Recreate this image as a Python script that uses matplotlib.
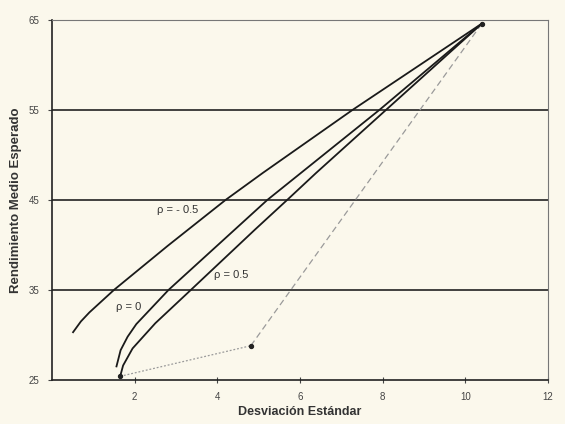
import matplotlib.pyplot as plt

plt.rcParams['font.family'] = ['Liberation Sans', 'DejaVu Sans']

# curvas (desviacion estandar, rendimiento medio)
x_neg = [0.51, 0.70, 0.905, 1.50, 2.80, 4.20, 5.10, 7.27, 10.40]
y_neg = [30.3, 31.5, 32.5, 35.0, 39.9, 45.0, 48.0, 55.0, 64.6]

x_cero = [1.56, 1.66, 1.83, 2.04, 2.82, 5.21, 7.92, 10.40]
y_cero = [26.5, 28.3, 29.8, 31.2, 35.0, 45.0, 55.0, 64.6]

x_pos = [1.65, 1.72, 1.95, 2.50, 3.36, 4.91, 5.69, 6.39, 8.08, 10.40]
y_pos = [25.4, 26.6, 28.5, 31.3, 35.0, 41.7, 45.0, 48.0, 55.0, 64.6]

# activos (puntos) y lineas grises
x_pts = [1.65, 4.81, 10.40]
y_pts = [25.4, 28.8, 64.6]

x_ticks = [2, 4, 6, 8, 10, 12]
y_ticks = [25, 35, 45, 55, 65]
y_grid = [35, 45, 55]

fondo = '#fbf8ec'
fig = plt.figure(figsize=(5.65, 4.24), dpi=100, facecolor=fondo)
ax = fig.add_axes([0.092, 0.104, 0.878, 0.849], facecolor=fondo)

for g in y_grid:
    ax.axhline(g, color='#222222', lw=1.2, zorder=1)

ax.plot(x_neg, y_neg, color='#1a1a1a', lw=1.3, zorder=3)
ax.plot(x_cero, y_cero, color='#1a1a1a', lw=1.3, zorder=3)
ax.plot(x_pos, y_pos, color='#1a1a1a', lw=1.3, zorder=3)

ax.plot(x_pts[:2], y_pts[:2], color='#9a9a9a', lw=0.9, ls=(0, (1.5, 1.5)), zorder=2)
ax.plot(x_pts[1:], y_pts[1:], color='#9a9a9a', lw=0.9, ls=(0, (5, 3)), zorder=2)
ax.scatter(x_pts, y_pts, s=8, color='#222222', zorder=4)

ax.text(2.53, 43.9, 'ρ = - 0.5', fontsize=8, color='#333333', va='center')
ax.text(3.93, 36.7, 'ρ = 0.5', fontsize=8, color='#333333', va='center')
ax.text(1.56, 33.1, 'ρ = 0', fontsize=8, color='#333333', va='center')

ax.set_xlim(0, 12)
ax.set_ylim(25, 65)
ax.set_xticks(x_ticks)
ax.set_yticks(y_ticks)
ax.tick_params(labelsize=7, colors='#444444', length=3, width=0.8)
ax.tick_params(axis='x', direction='inout', length=5, pad=6)
ax.tick_params(axis='y', pad=6)

for s in ['top', 'right']:
    ax.spines[s].set_linestyle((0, (1, 1)))
    ax.spines[s].set_color('#777777')
    ax.spines[s].set_linewidth(0.8)
for s in ['left', 'bottom']:
    ax.spines[s].set_color('#222222')
    ax.spines[s].set_linewidth(1.2)

ax.set_xlabel('Desviación Estándar', fontsize=9, fontweight='bold', color='#333333', labelpad=3)
ax.set_ylabel('Rendimiento Medio Esperado', fontsize=9.5, fontweight='bold', color='#333333', labelpad=5)

fig.savefig('out.png', dpi=100, facecolor=fondo)
